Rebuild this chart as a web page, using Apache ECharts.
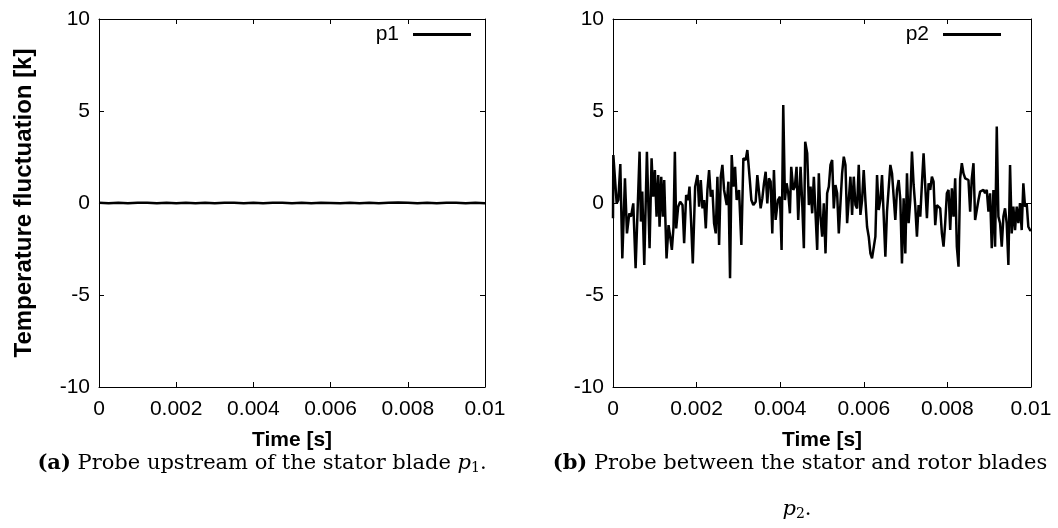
<!DOCTYPE html>
<html>
<head>
<meta charset="utf-8">
<script src="https://cdn.jsdelivr.net/npm/echarts@6/dist/echarts.min.js"></script>
<style>
html,body{margin:0;padding:0;background:#fff;}
#chart{width:1058px;height:528px;}
</style>
</head>
<body>
<div id="chart"></div>
<script>
// ---- data (time in ms, temperature fluctuation in K) ----
const xTicks = [0, 0.002, 0.004, 0.006, 0.008, 0.01];
const yTicks = [-10, -5, 0, 5, 10];

const p1TimeMs = [0,0.25,0.5,0.75,1,1.25,1.5,1.75,2,2.25,2.5,2.75,3,3.25,3.5,3.75,4,4.25,4.5,4.75,5,5.25,5.5,5.75,6,6.25,6.5,6.75,7,7.25,7.5,7.75,8,8.25,8.5,8.75,9,9.25,9.5,9.75,10];
const p1Values = [0.01,-0.01,0.01,-0.02,0.01,0.02,-0.01,0.01,-0.01,0.01,-0.01,0.01,-0.02,0.01,0.01,-0.01,0.01,-0.01,0.01,0.02,-0.01,0.01,-0.01,0.01,0.00,-0.01,0.01,-0.01,0.01,-0.01,0.01,0.03,0.01,-0.01,0.01,-0.01,0.01,0.01,-0.01,0.01,-0.01];

const p2TimeMs = [0.000,0.008,0.048,0.088,0.127,0.175,0.223,0.286,0.334,0.390,0.430,0.485,0.541,0.605,0.636,0.668,0.700,0.748,0.811,0.875,0.923,0.963,1.002,1.042,1.082,1.114,1.154,1.193,1.225,1.281,1.329,1.368,1.408,1.448,1.480,1.512,1.559,1.607,1.663,1.702,1.750,1.798,1.830,1.870,1.909,1.965,2.021,2.060,
2.100,2.140,2.180,2.220,2.259,2.299,2.339,2.379,2.418,2.458,2.498,2.538,2.578,2.617,2.657,2.721,2.761,2.800,2.840,2.880,2.920,2.959,3.015,3.071,3.119,3.174,3.214,3.270,3.310,3.357,3.413,3.453,3.492,3.532,3.572,3.612,3.652,3.691,3.731,3.771,3.811,3.850,3.890,3.946,3.994,4.033,4.073,4.113,4.153,4.193,4.232,4.264,4.312,4.352,4.391,4.431,
4.487,4.527,4.566,4.598,4.646,4.686,4.726,4.765,4.805,4.845,4.885,4.924,4.964,5.004,5.044,5.084,5.123,5.163,5.203,5.243,5.282,5.322,5.362,5.402,5.442,5.481,5.521,5.561,5.601,5.640,5.680,5.720,5.760,5.800,5.839,5.879,5.919,5.959,5.998,6.038,6.078,6.118,6.158,6.197,6.237,6.277,6.317,6.356,6.396,6.436,6.476,6.516,6.555,6.595,6.635,6.675,6.714,6.754,6.794,6.834,6.874,
6.913,6.953,6.993,7.033,7.072,7.112,7.152,7.192,7.232,7.271,7.311,7.351,7.391,7.430,7.470,7.510,7.550,7.590,7.629,7.669,7.709,7.749,7.788,7.828,7.868,7.908,7.947,7.987,8.027,8.067,8.107,8.146,8.186,8.226,8.266,8.305,8.345,8.385,8.425,8.465,8.504,8.544,8.584,8.624,8.663,8.703,8.743,8.783,8.823,8.862,8.902,8.942,8.982,9.021,9.061,9.101,9.141,9.181,9.220,9.260,9.300,9.340,9.379,9.419,9.459,9.499,9.539,9.578,9.618,9.658,9.698,9.737,9.777,9.817,9.857,9.897,9.936,9.976,10.000];
const p2Values = [-0.83,2.61,2.61,-0.02,0.16,2.12,-3.01,1.34,-1.65,-0.56,-0.74,-0.02,-3.55,0.71,2.79,-1.01,0.62,-3.37,2.79,-2.46,2.43,0.34,1.79,-0.74,1.52,-1.29,1.43,-0.74,1.25,-3.01,-1.20,-1.83,-2.55,-1.29,2.79,-1.38,-0.20,0.07,-0.11,-2.19,0.43,0.16,0.89,-1.10,-3.28,0.89,1.52,-0.20,
1.25,-0.29,0.16,-1.38,0.71,1.79,0.34,0.71,-1.10,-1.65,1.43,-2.28,1.43,2.07,0.71,-0.11,1.16,-4.09,2.61,0.89,1.97,0.16,0.71,-2.28,2.43,2.34,2.88,1.34,0.16,-0.11,0.07,1.52,1.43,-0.29,0.25,1.07,1.70,-0.02,1.34,1.16,-1.65,1.79,-0.92,0.16,0.34,-2.55,5.33,0.16,1.07,0.53,-0.56,1.97,0.71,0.89,1.97,-0.92,
1.97,-0.02,-2.46,3.33,2.70,-0.11,0.89,-0.56,1.43,1.52,-2.55,1.61,-0.74,-1.83,-0.02,-2.74,0.53,0.89,2.07,2.34,-0.29,0.98,0.53,-1.65,-1.74,1.61,2.52,2.07,-1.10,0.16,1.43,-0.65,1.43,-0.11,-0.29,2.07,-0.65,0.16,1.79,0.16,-1.29,-1.83,-2.74,-3.01,-3.01,-1.83,1.52,-0.38,0.16,1.52,1.61,-2.92,-0.47,-0.56,2.07,1.61,1.70,-0.92,0.71,1.25,0.16,
-3.28,0.25,-2.74,1.61,-1.10,0.16,2.79,0.98,-0.20,-1.83,-0.11,-0.74,1.07,2.70,2.79,-0.83,1.07,0.71,1.43,1.16,-1.20,-0.11,-0.20,-0.29,-1.65,-2.37,-1.10,0.53,0.71,-1.47,0.80,-0.74,1.34,-2.37,-3.46,1.34,2.16,1.61,1.34,1.43,1.25,-0.47,1.34,2.16,-0.92,-0.83,0.16,0.62,0.62,0.71,0.53,0.71,-0.47,0.53,-2.46,0.71,-2.37,4.15,-0.74,-1.10,-2.37,-0.74,-0.29,-1.10,-3.37,2.07,-1.65,-0.20,-1.47,-0.20,-1.10,0.00,-1.47,1.07,-0.20,-0.02,-1.29,-1.47,-1.50];

const seriesNames = ['p1', 'p2'];
const xTitle = 'Time [s]';
const yTitle = 'Temperature fluctuation [k]';

// ---- chart ----
const FONT = 'Liberation Sans, Arial, sans-serif';
const SERIF = 'DejaVu Serif, Liberation Serif, serif';
const FS = 21;
const chart = echarts.init(document.getElementById('chart'), null, {renderer: 'canvas'});

const xMin = xTicks[0], xMax = xTicks[xTicks.length - 1], xInt = xTicks[1] - xTicks[0];
const yMin = yTicks[0], yMax = yTicks[yTicks.length - 1], yInt = yTicks[1] - yTicks[0];
const fmtX = v => String(parseFloat(v.toFixed(3)));

function xAx(grid, pos, showLabel, name) {
  return {
    type: 'value', gridIndex: grid, position: pos, min: xMin, max: xMax, interval: xInt,
    name: name || '', nameLocation: 'middle', nameGap: 43,
    nameTextStyle: {color: '#000', fontFamily: FONT, fontSize: FS, fontWeight: 'bold'},
    axisLine: {show: true, onZero: false, lineStyle: {color: '#000', width: 1}},
    axisTick: {show: true, inside: true, length: 5, lineStyle: {color: '#000', width: 1}},
    splitLine: {show: false},
    axisLabel: {show: showLabel, formatter: fmtX, color: '#000', fontFamily: FONT, fontSize: FS, margin: 12}
  };
}
function yAx(grid, pos, showLabel, name) {
  return {
    type: 'value', gridIndex: grid, position: pos, min: yMin, max: yMax, interval: yInt,
    name: name || '', nameLocation: 'middle', nameGap: 63, nameRotate: 90,
    nameTextStyle: {color: '#000', fontFamily: FONT, fontSize: 24, fontWeight: 'bold'},
    axisLine: {show: true, onZero: false, lineStyle: {color: '#000', width: 1}},
    axisTick: {show: true, inside: true, length: 5, lineStyle: {color: '#000', width: 1}},
    splitLine: {show: false},
    axisLabel: {show: showLabel, color: '#000', fontFamily: FONT, fontSize: FS, margin: 9}
  };
}

const p1Data = p1TimeMs.map((t, i) => [t / 1000, p1Values[i]]);
const p2Data = p2TimeMs.map((t, i) => [t / 1000, p2Values[i]]);

const legendCommon = {
  icon: 'rect', itemWidth: 58, itemHeight: 3, align: 'right', top: 24, padding: 0,
  itemStyle: {color: '#000'},
  textStyle: {color: '#000', fontFamily: FONT, fontSize: FS, padding: [0, 9, 0, 0]},
  selectedMode: false
};

const CS = 21;
const capRich = {
  b: {fontFamily: SERIF, fontSize: CS, fontWeight: 'bold', color: '#000'},
  i: {fontFamily: SERIF, fontSize: CS, fontStyle: 'italic', color: '#000'},
  s: {fontFamily: SERIF, fontSize: 14, color: '#000', padding: [9, 0, 0, 0]},
  n: {fontFamily: SERIF, fontSize: CS, color: '#000'}
};

chart.setOption({
  animation: false,
  backgroundColor: '#fff',
  grid: [
    {left: 99, right: 1058 - 485, top: 19, bottom: 528 - 387},
    {left: 613, right: 1058 - 1031, top: 19, bottom: 528 - 387}
  ],
  xAxis: [xAx(0, 'bottom', true, xTitle), xAx(0, 'top', false), xAx(1, 'bottom', true, xTitle), xAx(1, 'top', false)],
  yAxis: [yAx(0, 'left', true, yTitle), yAx(0, 'right', false), yAx(1, 'left', true), yAx(1, 'right', false)],
  legend: [
    Object.assign({data: [seriesNames[0]], right: 1058 - 471}, legendCommon),
    Object.assign({data: [seriesNames[1]], right: 1058 - 1001}, legendCommon)
  ],
  series: [
    {name: seriesNames[0], type: 'line', xAxisIndex: 0, yAxisIndex: 0, data: p1Data, symbol: 'none',
     lineStyle: {color: '#000', width: 2.5}, itemStyle: {color: '#000'}},
    {name: seriesNames[1], type: 'line', xAxisIndex: 2, yAxisIndex: 2, data: p2Data, symbol: 'none',
     lineStyle: {color: '#000', width: 2.5}, itemStyle: {color: '#000'}}
  ],
  graphic: [
    {type: 'text', x: 262, y: 464, style: {text: '{b|(a)}{n| Probe upstream of the stator blade }{i|p}{s|1}{n|.}', rich: capRich, align: 'center', verticalAlign: 'middle'}},
    {type: 'text', x: 800, y: 464, style: {text: '{b|(b)}{n| Probe between the stator and rotor blades}', rich: capRich, align: 'center', verticalAlign: 'middle'}},
    {type: 'text', x: 797, y: 510, style: {text: '{i|p}{s|2}{n|.}', rich: capRich, align: 'center', verticalAlign: 'middle'}}
  ]
});
</script>
</body>
</html>
